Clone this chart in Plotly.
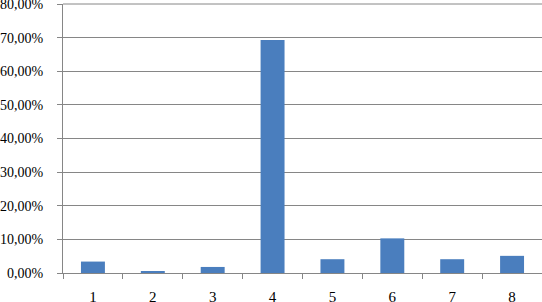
import plotly.graph_objects as go

categories = ["1", "2", "3", "4", "5", "6", "7", "8"]
values = [0.034, 0.003, 0.018, 0.693, 0.041, 0.103, 0.041, 0.051]
y_ticks = [0, 0.1, 0.2, 0.3, 0.4, 0.5, 0.6, 0.7, 0.8]

fig = go.Figure(go.Bar(x=categories, y=values, marker_color="#4A7EBE",
                       marker_line_width=0, width=0.4))

fig.update_layout(
    width=542, height=302,
    margin=dict(l=63, r=0, t=4, b=29, autoexpand=False),
    paper_bgcolor="white", plot_bgcolor="white",
    separators=", ",
    font=dict(family="Liberation Serif", size=14, color="black"),
    showlegend=False,
)
# top gridline at the top of the value range (plotly drops gridlines at the range edge)
fig.add_shape(type="line", xref="paper", yref="paper", x0=0, x1=1,
              y0=1, y1=1, line=dict(color="#868686", width=1), layer="above")
fig.update_xaxes(type="category", showline=True, linecolor="#868686", linewidth=1,
                 ticks="outside", tickson="boundaries", ticklen=5, tickcolor="#868686",
                 showgrid=False, automargin=False, ticklabelstandoff=10,
                 ticklabeloverflow="allow", tickfont=dict(size=15))
fig.update_yaxes(range=[0, y_ticks[-1]], tickvals=y_ticks, tickformat=".2%",
                 showline=True, linecolor="#868686", linewidth=1,
                 showgrid=True, gridcolor="#868686", gridwidth=1,
                 ticks="outside", ticklen=5, tickcolor="#868686", zeroline=False,
                 automargin=False, ticklabelstandoff=11, ticklabeloverflow="allow")

fig.write_html("out.html", config={"displayModeBar": False},
               post_script="document.body.style.margin='0';document.body.style.padding='0';")
